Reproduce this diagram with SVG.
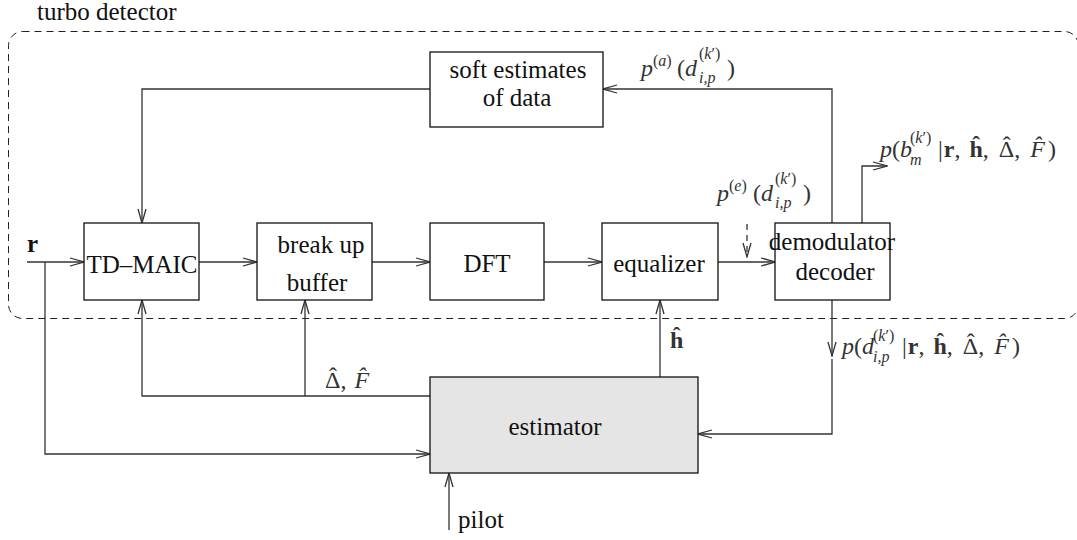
<svg xmlns="http://www.w3.org/2000/svg" width="1077" height="540" viewBox="0 0 1077 540">
<style>
.box{fill:#fff;stroke:#111;stroke-width:1.3}
.est{fill:#e5e5e5;stroke:#111;stroke-width:1.3}
.ln{fill:none;stroke:#333;stroke-width:1.3}
.dash{fill:none;stroke:#222;stroke-width:1;stroke-dasharray:7 5}
text{font-family:'Liberation Serif','Times New Roman',serif}
.lbl{font-size:25px;fill:#111}
.math{font-size:24px;fill:#333}
.sc{font-size:16px}
.it{font-style:italic}
.bd{font-weight:bold}
</style>
<defs>
<marker id="ar" markerWidth="16" markerHeight="10" viewBox="-15 -5 16 10" refX="0" refY="0" orient="auto" markerUnits="userSpaceOnUse">
<path d="M-14,-4 L0,0 L-14,4" fill="none" stroke="#333" stroke-width="1.3"/>
</marker>
</defs>
<g id="turbo-detector">
<rect class="dash" x="8.5" y="31.5" width="1070" height="287" rx="14"/>
<text class="lbl" x="37" y="20">turbo detector</text>
</g>
<g id="connectors">
<path class="ln" d="M27,262 H84" marker-end="url(#ar)"/>
<path class="ln" d="M45,262 V454 H430" marker-end="url(#ar)"/>
<path class="ln" d="M199,262 H257" marker-end="url(#ar)"/>
<path class="ln" d="M372,262 H430" marker-end="url(#ar)"/>
<path class="ln" d="M544,262 H602" marker-end="url(#ar)"/>
<path class="ln" d="M718,262 H775" marker-end="url(#ar)"/>
<path class="ln" d="M747,224 V257" stroke-dasharray="6 5" marker-end="url(#ar)"/>
<path class="ln" d="M832,224 V89 H603" marker-end="url(#ar)"/>
<path class="ln" d="M430,89 H142 V223" marker-end="url(#ar)"/>
<path class="ln" d="M862,224 V166 H887" marker-end="url(#ar)"/>
<path class="ln" d="M832,300 V356" marker-end="url(#ar)"/>
<path class="ln" d="M832,359 V434 H698" marker-end="url(#ar)"/>
<path class="ln" d="M660,377 V300" marker-end="url(#ar)"/>
<path class="ln" d="M430,396 H142 V300" marker-end="url(#ar)"/>
<path class="ln" d="M305,396 V300" marker-end="url(#ar)"/>
<path class="ln" d="M449,530 V473" marker-end="url(#ar)"/>
</g>
<g id="soft-estimates">
<rect class="box" x="430" y="52" width="173" height="75"/>
<text class="lbl" x="518" y="78" text-anchor="middle">soft estimates</text>
<text class="lbl" x="517" y="106" text-anchor="middle">of data</text>
</g>
<g id="td-maic">
<rect class="box" x="84" y="223" width="115" height="77"/>
<text class="lbl" x="142" y="273" text-anchor="middle">TD–MAIC</text>
</g>
<g id="break-up-buffer">
<rect class="box" x="257" y="223" width="115" height="77"/>
<text class="lbl" x="321" y="253" text-anchor="middle">break up</text>
<text class="lbl" x="317" y="291" text-anchor="middle">buffer</text>
</g>
<g id="dft">
<rect class="box" x="430" y="223" width="114" height="77"/>
<text class="lbl" x="487" y="272" text-anchor="middle">DFT</text>
</g>
<g id="equalizer">
<rect class="box" x="602" y="223" width="116" height="77"/>
<text class="lbl" x="659" y="272" text-anchor="middle">equalizer</text>
</g>
<g id="demodulator-decoder">
<rect class="box" x="775" y="223" width="115" height="77"/>
<text class="lbl" x="832" y="250" text-anchor="middle">demodulator</text>
<text class="lbl" x="835" y="280" text-anchor="middle">decoder</text>
</g>
<g id="estimator">
<rect class="est" x="430" y="377" width="268" height="96"/>
<text class="lbl" x="555" y="435" text-anchor="middle">estimator</text>
</g>
<g id="labels">
<text class="lbl bd" x="27" y="252">r</text>
<text class="lbl" x="458" y="528">pilot</text>
<text class="math"><tspan class="it" x="641" y="76">p</tspan><tspan class="sc" x="653" y="66">(<tspan class="it">a</tspan>)</tspan><tspan x="677" y="76">(</tspan><tspan class="it">d</tspan><tspan class="sc" x="699" y="59">(<tspan class="it">k</tspan>′)</tspan><tspan class="sc it" x="699" y="83">i,p</tspan><tspan x="727" y="76">)</tspan></text>
<text class="math"><tspan class="it" x="717" y="201">p</tspan><tspan class="sc" x="729" y="191">(<tspan class="it">e</tspan>)</tspan><tspan x="753" y="201">(</tspan><tspan class="it">d</tspan><tspan class="sc" x="775" y="184">(<tspan class="it">k</tspan>′)</tspan><tspan class="sc it" x="775" y="208">i,p</tspan><tspan x="803" y="201">)</tspan></text>
<text class="math"><tspan class="it" x="880" y="157">p</tspan><tspan>(</tspan><tspan class="it">b</tspan><tspan class="sc" x="910" y="143">(<tspan class="it">k</tspan>′)</tspan><tspan class="sc it" x="910" y="165">m</tspan><tspan x="938" y="157">|</tspan><tspan class="bd" dx="1">r</tspan>,<tspan class="bd" dx="9">ĥ</tspan>,<tspan dx="10">Δ</tspan><tspan dx="-11.5" dy="-4">ˆ</tspan><tspan dx="3.5" dy="4">,</tspan><tspan class="it" dx="10">F̂</tspan><tspan dx="3">)</tspan></text>
<text class="math"><tspan class="it" x="842" y="354">p</tspan><tspan>(</tspan><tspan class="it">d</tspan><tspan class="sc" x="873" y="341">(<tspan class="it">k</tspan>′)</tspan><tspan class="sc it" x="873" y="362">i,p</tspan><tspan x="902" y="354">|</tspan><tspan class="bd" dx="1">r</tspan>,<tspan class="bd" dx="9">ĥ</tspan>,<tspan dx="10">Δ</tspan><tspan dx="-11.5" dy="-4">ˆ</tspan><tspan dx="3.5" dy="4">,</tspan><tspan class="it" dx="10">F̂</tspan><tspan dx="3">)</tspan></text>
<text class="math bd" x="670" y="348">ĥ</text>
<text class="math" x="325" y="388">Δ<tspan dx="-11.5" dy="-4">ˆ</tspan><tspan dx="3.5" dy="4">,</tspan><tspan class="it" dx="8">F̂</tspan></text>
</g>
</svg>
